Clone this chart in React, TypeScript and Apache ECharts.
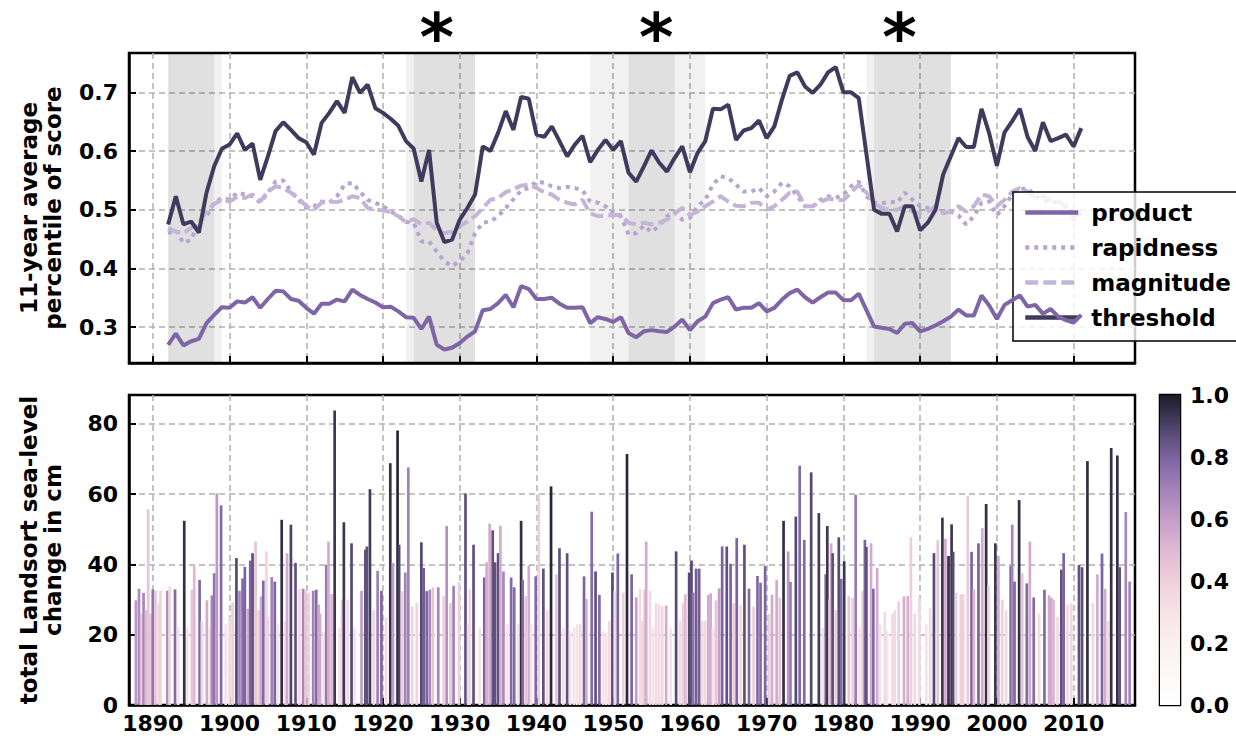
import React, { useEffect, useRef } from 'react';
import * as echarts from 'echarts';

// 11-year running averages, one value per year starting at FIRST_YEAR
const FIRST_YEAR = 1892;

const product = [
  0.270, 0.289, 0.269, 0.276, 0.280, 0.307, 0.321, 0.334, 0.333, 0.344, 0.342, 0.351, 0.333, 0.348, 0.362, 0.361, 0.348, 0.345, 0.333, 0.323, 0.340, 0.340, 0.347, 0.344, 0.364, 0.355,
  0.348, 0.342, 0.334, 0.335, 0.327, 0.317, 0.316, 0.297, 0.318, 0.270, 0.262, 0.265, 0.273, 0.284, 0.293, 0.329, 0.331, 0.341, 0.355, 0.334, 0.370, 0.365, 0.348, 0.348, 0.350,
  0.340, 0.333, 0.333, 0.334, 0.307, 0.317, 0.314, 0.309, 0.317, 0.290, 0.283, 0.293, 0.295, 0.293, 0.292, 0.301, 0.313, 0.295, 0.310, 0.318, 0.341, 0.347, 0.351, 0.330, 0.333,
  0.333, 0.341, 0.327, 0.333, 0.347, 0.358, 0.364, 0.351, 0.342, 0.351, 0.359, 0.359, 0.346, 0.346, 0.357, 0.329, 0.301, 0.299, 0.297, 0.290, 0.306, 0.307, 0.293, 0.297, 0.303,
  0.310, 0.318, 0.330, 0.320, 0.320, 0.354, 0.337, 0.314, 0.338, 0.346, 0.354, 0.335, 0.338, 0.323, 0.331, 0.318, 0.312, 0.308, 0.321,
];

const rapidness = [
  0.460, 0.466, 0.443, 0.449, 0.480, 0.489, 0.512, 0.520, 0.517, 0.529, 0.526, 0.523, 0.512, 0.529, 0.548, 0.550, 0.531, 0.517, 0.503, 0.506, 0.514, 0.512, 0.523, 0.543, 0.546, 0.531,
  0.517, 0.512, 0.506, 0.497, 0.490, 0.479, 0.478, 0.446, 0.446, 0.429, 0.412, 0.404, 0.412, 0.426, 0.460, 0.478, 0.480, 0.489, 0.503, 0.518, 0.533, 0.537, 0.548, 0.546, 0.540,
  0.537, 0.539, 0.537, 0.533, 0.514, 0.512, 0.506, 0.494, 0.489, 0.458, 0.460, 0.473, 0.462, 0.473, 0.489, 0.496, 0.483, 0.486, 0.506, 0.517, 0.543, 0.557, 0.554, 0.543, 0.531,
  0.531, 0.537, 0.523, 0.531, 0.546, 0.540, 0.523, 0.506, 0.506, 0.517, 0.523, 0.520, 0.526, 0.540, 0.548, 0.523, 0.512, 0.511, 0.514, 0.512, 0.529, 0.517, 0.506, 0.503, 0.506,
  0.495, 0.497, 0.490, 0.475, 0.489, 0.512, 0.514, 0.491, 0.506, 0.526, 0.535, 0.537, 0.523, 0.517, 0.514, 0.512, 0.506, 0.483, 0.494,
];

const magnitude = [
  0.469, 0.463, 0.460, 0.469, 0.478, 0.497, 0.510, 0.517, 0.514, 0.522, 0.520, 0.526, 0.514, 0.531, 0.540, 0.537, 0.529, 0.520, 0.506, 0.500, 0.512, 0.514, 0.513, 0.517, 0.523, 0.520,
  0.503, 0.500, 0.499, 0.496, 0.489, 0.479, 0.484, 0.475, 0.478, 0.465, 0.460, 0.463, 0.472, 0.480, 0.489, 0.503, 0.517, 0.520, 0.530, 0.535, 0.541, 0.543, 0.537, 0.530, 0.526,
  0.517, 0.512, 0.509, 0.517, 0.494, 0.489, 0.490, 0.491, 0.491, 0.478, 0.475, 0.478, 0.475, 0.478, 0.483, 0.494, 0.503, 0.491, 0.497, 0.506, 0.514, 0.523, 0.514, 0.507, 0.506,
  0.512, 0.512, 0.500, 0.506, 0.517, 0.529, 0.531, 0.506, 0.506, 0.513, 0.519, 0.517, 0.516, 0.529, 0.543, 0.529, 0.512, 0.503, 0.500, 0.500, 0.506, 0.497, 0.494, 0.497, 0.506,
  0.494, 0.497, 0.506, 0.497, 0.506, 0.526, 0.523, 0.506, 0.517, 0.531, 0.537, 0.531, 0.520, 0.523, 0.517, 0.514, 0.506, 0.489, 0.497,
];

const threshold = [
  0.475, 0.523, 0.475, 0.480, 0.461, 0.529, 0.574, 0.604, 0.611, 0.630, 0.602, 0.613, 0.551, 0.591, 0.634, 0.649, 0.636, 0.622, 0.615, 0.594, 0.648, 0.665, 0.685, 0.665, 0.726, 0.699,
  0.713, 0.673, 0.665, 0.655, 0.643, 0.617, 0.604, 0.548, 0.602, 0.478, 0.445, 0.449, 0.483, 0.503, 0.526, 0.608, 0.600, 0.631, 0.668, 0.636, 0.692, 0.689, 0.628, 0.624, 0.642,
  0.617, 0.591, 0.611, 0.626, 0.581, 0.602, 0.619, 0.602, 0.617, 0.563, 0.548, 0.574, 0.601, 0.580, 0.565, 0.588, 0.608, 0.564, 0.597, 0.617, 0.672, 0.671, 0.679, 0.619, 0.635,
  0.639, 0.652, 0.622, 0.642, 0.688, 0.728, 0.734, 0.710, 0.699, 0.713, 0.734, 0.743, 0.700, 0.700, 0.690, 0.595, 0.500, 0.493, 0.493, 0.463, 0.506, 0.506, 0.465, 0.478, 0.500,
  0.560, 0.591, 0.622, 0.607, 0.607, 0.672, 0.630, 0.575, 0.632, 0.651, 0.672, 0.624, 0.600, 0.649, 0.617, 0.622, 0.628, 0.608, 0.639,
];

// Shaded periods [from, to] in years
const corePeriods: [number, number][] = [[1892, 1898], [1924, 1932], [1952, 1958], [1984, 1994]];
const edgePeriods: [number, number][] = [[1898, 1899], [1923, 1924], [1947, 1952], [1958, 1962], [1983, 1984]];
const markedYears = [1927, 1955.6, 1987.3];

// Individual events: [year, total change in cm, score 0..1]
const events: [number, number, number][] = [
  [1887.8, 29.8, 0.62], [1888.2, 33.1, 0.66], [1888.5, 26, 0.45], [1888.8, 31.9, 0.68], [1889.1, 27, 0.5], [1889.4, 55.7, 0.45],
  [1889.7, 26, 0.45], [1890.0, 32.9, 0.74], [1890.35, 32.5, 0.45], [1890.8, 28.9, 0.4], [1891.0, 32.5, 0.38], [1891.9, 32.5, 0.66],
  [1892.2, 33.8, 0.35], [1892.9, 32.9, 0.78], [1893.3, 22.2, 0.3], [1894.1, 52.4, 0.95], [1894.5, 22, 0.3], [1895.1, 32.8, 0.45],
  [1895.4, 39.7, 0.5], [1896.1, 35.6, 0.78], [1896.4, 24, 0.35], [1897.05, 29.8, 0.55], [1897.4, 22, 0.3], [1897.7, 31.2, 0.68],
  [1898.0, 37.5, 0.75], [1898.35, 60.2, 0.62], [1898.9, 56.8, 0.78], [1899.5, 22.9, 0.3], [1900.0, 25, 0.35], [1900.4, 29.3, 0.4],
  [1900.9, 41.8, 0.88], [1901.3, 32.5, 0.68], [1901.7, 36.0, 0.78], [1902.0, 39.3, 0.8], [1902.4, 27.4, 0.55], [1902.7, 41.1, 0.8],
  [1903.0, 43.2, 0.86], [1903.4, 46.5, 0.45], [1903.8, 27, 0.4], [1904.1, 30.9, 0.55], [1904.4, 35.4, 0.78], [1904.8, 43.7, 0.38],
  [1905.0, 25, 0.38], [1905.5, 36.4, 0.7], [1905.9, 35.1, 0.8], [1906.3, 23, 0.3], [1906.8, 52.7, 0.95], [1907.3, 24, 0.35],
  [1907.5, 43.2, 0.55], [1908.0, 51.3, 0.9], [1908.6, 40.4, 0.86], [1909.1, 33, 0.35], [1909.6, 33.1, 0.68], [1909.9, 32.6, 0.45],
  [1910.3, 32, 0.4], [1910.9, 32.5, 0.7], [1911.3, 32.8, 0.78], [1911.6, 28.6, 0.58], [1911.8, 26, 0.55], [1912.3, 21, 0.3],
  [1912.6, 39.9, 0.72], [1912.9, 46.5, 0.55], [1913.3, 31.6, 0.5], [1913.7, 83.8, 0.93], [1914.3, 22, 0.3], [1914.65, 30, 0.4],
  [1914.9, 52.0, 0.93], [1915.4, 30, 0.35], [1915.9, 46.0, 0.88], [1916.3, 22, 0.3], [1917.2, 32.5, 0.6], [1917.7, 44.2, 0.86],
  [1917.9, 45.1, 0.86], [1918.3, 61.4, 0.92], [1918.8, 27, 0.38], [1919.3, 38.2, 0.7], [1919.8, 32.5, 0.8], [1920.4, 25, 0.35],
  [1920.95, 68.8, 0.95], [1921.3, 40.4, 0.6], [1921.9, 78.1, 0.97], [1922.1, 45.6, 0.9], [1922.5, 32.4, 0.4], [1922.9, 37.7, 0.7],
  [1923.3, 67.6, 0.7], [1923.8, 28, 0.38], [1924.4, 29, 0.38], [1925.0, 46.3, 0.88], [1925.3, 39.0, 0.82], [1925.7, 32.4, 0.8],
  [1926.1, 32.8, 0.68], [1926.5, 33.5, 0.45], [1927.2, 33.5, 0.68], [1927.9, 31, 0.4], [1928.3, 50.9, 0.65], [1928.8, 29, 0.45],
  [1929.2, 33.9, 0.7], [1929.9, 35, 0.4], [1930.75, 60.2, 0.86], [1931.1, 22.9, 0.35], [1931.3, 33, 0.35], [1931.8, 45.6, 0.86],
  [1932.6, 22, 0.3], [1933.2, 36.3, 0.8], [1933.5, 40.6, 0.55], [1933.9, 51.6, 0.55], [1934.3, 49.7, 0.86], [1934.6, 40.6, 0.86],
  [1935.0, 43.2, 0.86], [1935.3, 51.0, 0.55], [1935.7, 38.0, 0.68], [1936.2, 23, 0.3], [1936.7, 36.3, 0.78], [1937.1, 33.5, 0.78],
  [1937.6, 23, 0.3], [1938.0, 52.4, 0.95], [1938.2, 35.6, 0.78], [1938.6, 31.0, 0.45], [1939.0, 39.7, 0.55], [1939.3, 23, 0.3],
  [1939.9, 36.6, 0.78], [1940.3, 60.0, 0.4], [1940.9, 38.8, 0.86], [1941.4, 27, 0.35], [1941.9, 62.2, 0.97], [1942.6, 37.2, 0.45],
  [1943.0, 44.6, 0.86], [1943.5, 22, 0.3], [1944.0, 43.2, 0.86], [1944.4, 21, 0.3], [1944.9, 22, 0.3], [1945.3, 23, 0.3],
  [1945.7, 23, 0.35], [1946.2, 36.6, 0.8], [1946.5, 30.2, 0.55], [1947.2, 55.0, 0.78], [1947.7, 38.0, 0.86], [1948.2, 31.3, 0.78],
  [1948.7, 21, 0.3], [1949.1, 20.5, 0.3], [1949.5, 24, 0.35], [1949.9, 37.7, 0.88], [1950.2, 32.5, 0.35], [1950.6, 43.1, 0.8],
  [1951.3, 32, 0.4], [1951.8, 71.4, 0.97], [1952.4, 37.2, 0.8], [1953.0, 30.6, 0.6], [1953.5, 33, 0.35], [1953.8, 24, 0.35],
  [1954.1, 32.8, 0.45], [1954.3, 46.5, 0.55], [1954.8, 32.5, 0.35], [1955.2, 22, 0.3], [1955.6, 29, 0.35], [1956.0, 28.5, 0.35],
  [1956.4, 28, 0.35], [1956.9, 28.3, 0.55], [1957.5, 22, 0.3], [1958.2, 43.7, 0.88], [1958.7, 24, 0.35], [1959.1, 29, 0.4],
  [1959.4, 31.5, 0.5], [1959.9, 37.7, 0.88], [1960.2, 41.1, 0.88], [1960.4, 32, 0.75], [1960.8, 38.8, 0.82], [1961.2, 38.8, 0.82],
  [1961.6, 24, 0.35], [1962.0, 24, 0.35], [1962.4, 31.3, 0.55], [1962.7, 31.8, 0.55], [1963.0, 22, 0.3], [1963.4, 29.8, 0.45],
  [1963.8, 33.2, 0.6], [1964.2, 45.1, 0.8], [1964.8, 45.1, 0.86], [1965.3, 40.2, 0.8], [1965.7, 29, 0.4], [1966.1, 47.5, 0.8],
  [1966.6, 28.5, 0.35], [1967.1, 45.6, 0.86], [1967.7, 33.1, 0.78], [1968.3, 28, 0.4], [1968.8, 36.7, 0.78], [1969.2, 34.8, 0.78],
  [1969.8, 39.5, 0.8], [1970.3, 26, 0.4], [1970.7, 31.4, 0.55], [1971.3, 35.6, 0.55], [1971.7, 30.5, 0.45], [1972.2, 52.4, 0.95],
  [1972.8, 43.7, 0.62], [1973.1, 35.0, 0.72], [1973.8, 53.6, 0.88], [1974.3, 68.1, 0.78], [1974.9, 47.0, 0.78], [1975.8, 66.2, 0.88],
  [1976.8, 54.6, 0.92], [1977.3, 22, 0.3], [1977.7, 37.2, 0.8], [1977.9, 50.9, 0.93], [1978.2, 30, 0.4], [1978.4, 46.0, 0.55],
  [1978.6, 43.2, 0.86], [1979.0, 27, 0.4], [1979.4, 47.7, 0.88], [1979.7, 35.9, 0.78], [1980.1, 40.9, 0.93], [1980.7, 31.0, 0.45],
  [1981.2, 30.5, 0.4], [1981.6, 59.8, 0.72], [1982.1, 22, 0.3], [1982.5, 32.5, 0.4], [1982.8, 47.0, 0.8], [1983.0, 45.0, 0.86],
  [1983.6, 46.0, 0.55], [1983.9, 33.1, 0.78], [1984.4, 39.0, 0.55], [1984.8, 23, 0.3], [1985.4, 26.5, 0.35], [1985.7, 21, 0.3],
  [1986.4, 26, 0.35], [1986.7, 27, 0.35], [1987.2, 29.5, 0.4], [1987.9, 30.9, 0.55], [1988.4, 31.0, 0.55], [1988.8, 47.8, 0.4],
  [1989.3, 26, 0.35], [1989.9, 30.5, 0.35], [1990.8, 23, 0.3], [1991.3, 27.5, 0.35], [1991.8, 43.2, 0.88], [1992.3, 46.9, 0.45],
  [1992.9, 53.3, 0.93], [1993.3, 47.3, 0.55], [1993.7, 42.4, 0.95], [1994.1, 51.4, 0.93], [1994.3, 43.6, 0.88], [1994.7, 32, 0.4],
  [1995.3, 31.5, 0.4], [1995.6, 31.5, 0.4], [1996.2, 59.5, 0.42], [1996.7, 43.6, 0.8], [1997.0, 33, 0.5], [1997.6, 46.0, 0.8],
  [1998.1, 50.3, 0.55], [1998.6, 57.2, 0.95], [1998.9, 34, 0.4], [1999.8, 46.0, 0.93], [2000.2, 42.4, 0.55], [2000.7, 30, 0.4],
  [2001.2, 27, 0.35], [2001.8, 39.6, 0.8], [2002.0, 51.3, 0.68], [2002.3, 35.1, 0.78], [2002.9, 58.3, 0.95], [2003.3, 37.6, 0.45],
  [2003.9, 34.6, 0.78], [2004.3, 46.5, 0.55], [2004.8, 30.6, 0.78], [2005.5, 26, 0.35], [2006.2, 32.8, 0.78], [2006.8, 31.2, 0.55],
  [2007.1, 30.5, 0.55], [2007.4, 30, 0.5], [2007.9, 25, 0.35], [2008.4, 38.5, 0.86], [2008.7, 43.2, 0.8], [2009.2, 28.5, 0.35],
  [2009.7, 29, 0.35], [2010.7, 39.8, 0.86], [2011.1, 39.2, 0.86], [2011.8, 69.4, 0.95], [2012.5, 29, 0.35], [2013.1, 37.2, 0.55],
  [2013.7, 43.1, 0.8], [2014.1, 33.1, 0.55], [2014.5, 24, 0.35], [2014.9, 73.1, 0.95], [2015.7, 71.0, 0.95], [2016.0, 39.2, 0.86],
  [2016.8, 54.9, 0.68], [2017.3, 35.1, 0.68],
];

// Colour map used for the event bars and the colour bar (0 -> 1)
const scoreColors = [
  '#ffffff', '#fdf8f8', '#fbeff1', '#f6e3e8', '#eed0db', '#dfb9d2',
  '#c49dc8', '#a081b8', '#7b64a1', '#4c4367', '#1c1a26',
];

const FONT = 'DejaVu Sans';
const GRID_LINE = { color: '#b0b0b0', type: [6, 4] as number[], width: 1.5 };
const TICK = { show: true, inside: true, length: 7, lineStyle: { color: '#000', width: 2 } };
const FRAME = { show: true, onZero: false, lineStyle: { color: '#000', width: 2.5 } };
const SPLIT = { show: true, showMinLine: false, showMaxLine: false, lineStyle: GRID_LINE };
const TICK_FONT = { fontFamily: FONT, fontWeight: 'bold', fontSize: 22, color: '#000' };
const NAME_FONT = { fontFamily: FONT, fontWeight: 'bold', fontSize: 23, lineHeight: 24, color: '#000' };

const years = product.map((_, i) => FIRST_YEAR + i);
const pairs = (vals: number[]) => vals.map((v, i) => [years[i], v]);

function yearAxis(gridIndex: number, showLabels: boolean) {
  return {
    type: 'value', gridIndex, min: 1886.9, max: 2018, splitNumber: 13, minInterval: 10, maxInterval: 10,
    axisLine: FRAME,
    axisTick: TICK,
    axisLabel: {
      show: showLabels, showMinLabel: false, showMaxLabel: false, margin: 7, ...TICK_FONT,
      formatter: (v: number) => String(v),
    },
    splitLine: SPLIT,
  };
}

export default function App() {
  const ref = useRef<HTMLDivElement>(null);
  useEffect(() => {
    document.body.style.margin = '0';
    if (!ref.current) return;
    const chart = echarts.init(ref.current, undefined, { renderer: 'svg' });

    const shade = [
      ...corePeriods.map(([a, b]) => [{ xAxis: a, itemStyle: { color: 'rgba(0,0,0,0.12)' } }, { xAxis: b }]),
      ...edgePeriods.map(([a, b]) => [{ xAxis: a, itemStyle: { color: 'rgba(0,0,0,0.055)' } }, { xAxis: b }]),
    ];

    const lineSeries = (name: string, vals: number[], color: string, type: any, width: number, z: number, extra: any = {}) => ({
      name, type: 'line', xAxisIndex: 0, yAxisIndex: 0, data: pairs(vals), symbol: 'none', z,
      lineStyle: { color, width, type }, itemStyle: { color }, ...extra,
    });

    const option: any = {
      animation: false,
      backgroundColor: '#fff',
      grid: [
        { left: 129, right: 101, top: 53, height: 310, show: true, borderColor: '#000', borderWidth: 2.5 },
        { left: 129, right: 101, top: 395, height: 310, show: true, borderColor: '#000', borderWidth: 2.5 },
        { left: 1160, width: 20, top: 395, height: 310, show: true, borderColor: '#000', borderWidth: 2.5 },
      ],
      xAxis: [
        yearAxis(0, false),
        yearAxis(1, true),
        { type: 'category', gridIndex: 2, data: ['score'], show: false },
      ],
      yAxis: [
        {
          type: 'value', gridIndex: 0, min: 0.239, max: 0.767, splitNumber: 5, minInterval: 0.1, maxInterval: 0.1,
          name: '11-year average\npercentile of score', nameLocation: 'middle', nameRotate: 90, nameGap: 64,
          nameTextStyle: NAME_FONT,
          axisLine: FRAME,
          axisTick: TICK,
          axisLabel: {
            showMinLabel: false, showMaxLabel: false, margin: 11, ...TICK_FONT,
            formatter: (v: number) => v.toFixed(1),
          },
          splitLine: SPLIT,
        },
        {
          type: 'value', gridIndex: 1, min: 0, max: 88.2, interval: 20,
          name: 'total Landsort sea-level\nchange in cm', nameLocation: 'middle', nameRotate: 90, nameGap: 64,
          nameTextStyle: NAME_FONT,
          axisLine: FRAME,
          axisTick: TICK,
          axisLabel: { showMaxLabel: false, margin: 11, ...TICK_FONT },
          splitLine: SPLIT,
        },
        {
          type: 'value', gridIndex: 2, min: 0, max: 1, interval: 0.2, position: 'right',
          axisLine: { show: false },
          axisTick: { show: true, inside: true, length: 6, lineStyle: { color: '#000', width: 2 } },
          axisLabel: { margin: 10, ...TICK_FONT, formatter: (v: number) => v.toFixed(1) },
          splitLine: { show: false },
        },
      ],
      legend: {
        data: ['product', 'rapidness', 'magnitude', 'threshold'],
        orient: 'vertical', left: 1013, top: 192, padding: [9, 10, 12, 10],
        itemWidth: 53, itemHeight: 24, itemGap: 12, selectedMode: false,
        itemStyle: { opacity: 0 },
        lineStyle: { width: 4.5 },
        backgroundColor: 'rgba(255,255,255,0.8)', borderColor: '#000', borderWidth: 1.5, borderRadius: 0,
        textStyle: { fontFamily: FONT, fontWeight: 'bold', fontSize: 23, color: '#000', padding: [0, 0, 0, 8] },
      },
      visualMap: {
        type: 'continuous', show: false, seriesIndex: 4, dimension: 2, min: 0, max: 1,
        inRange: { color: scoreColors },
      },
      series: [
        lineSeries('product', product, '#7f65a6', 'solid', 4, 4, {
          markArea: { silent: true, data: shade },
        }),
        lineSeries('rapidness', rapidness, '#b7a4cf', [4, 5], 4, 3),
        lineSeries('magnitude', magnitude, '#c4b5d7', [13, 5], 4, 3),
        lineSeries('threshold', threshold, '#403b5c', 'solid', 4, 5),
        {
          name: 'events', type: 'bar', xAxisIndex: 1, yAxisIndex: 1, barWidth: 2.7,
          data: events.map(([y, cm, s]) => [y, cm, s]),
        },
        {
          name: 'scale', type: 'bar', xAxisIndex: 2, yAxisIndex: 2, barWidth: '100%', silent: true,
          data: [1],
          itemStyle: {
            color: new echarts.graphic.LinearGradient(0, 1, 0, 0,
              scoreColors.map((c, i) => ({ offset: i / (scoreColors.length - 1), color: c }))),
          },
        },
      ],
    };
    chart.setOption(option);

    // asterisks above the marked periods
    const topPx = 53;
    chart.setOption({
      graphic: markedYears.map((yr) => {
        const px = chart.convertToPixel({ xAxisIndex: 0 }, yr) as number;
        return {
          type: 'text', x: px, y: topPx - 16,
          style: { text: '*', fontFamily: FONT, fontWeight: 'bold', fontSize: 66, fill: '#000', align: 'center', verticalAlign: 'middle' },
        };
      }),
    });

    return () => chart.dispose();
  }, []);
  return <div ref={ref} style={{ width: 1236, height: 738 }} />;
}
